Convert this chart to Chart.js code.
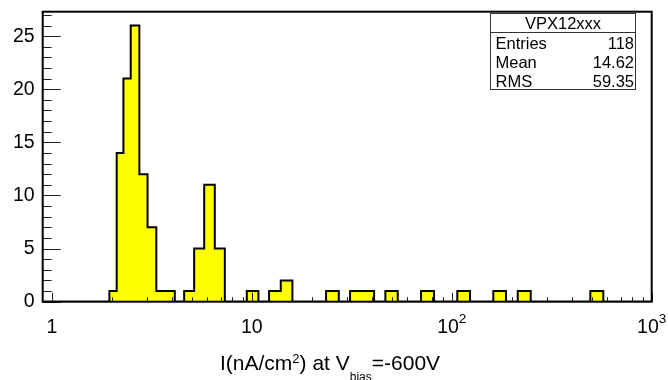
<!DOCTYPE html>
<html>
<head>
<meta charset="utf-8">
<script src="https://cdn.jsdelivr.net/npm/chart.js@4/dist/chart.umd.min.js"></script>
<style>
    html, body { margin: 0; padding: 0; background: #fff; }
    canvas { display: block; }
</style>
</head>
<body>
<canvas id="myChart" width="668" height="380"></canvas>
<script>
'use strict';

// histogram bins: lower edge, upper edge, entries
const binLow = [1.94, 2.11, 2.28, 2.48, 2.74, 3.01, 3.33, 3.71,
    4.59, 5.15, 5.78, 6.53,
    9.44, 12.20, 13.96, 23.52, 31.01, 35.61, 46.56, 70.22, 106.6, 161.4, 213.8, 493.2];
const binHigh = [2.11, 2.28, 2.48, 2.74, 3.01, 3.33, 3.71, 4.12,
    5.15, 5.78, 6.53, 7.33,
    10.79, 13.96, 15.96, 27.23, 35.61, 40.89, 53.70, 81.56, 123.4, 186.8, 248.3, 572.8];
const entries = [1, 14, 21, 26, 12, 7, 1, 1,
    1, 5, 11, 5,
    1, 1, 2, 1, 1, 1, 1, 1, 1, 1, 1, 1];

const xMin = 0.9, xMax = 1000;
const yMax = 27.3;
const decades = [1, 10, 100, 1000];
const decadeBase = ['1', '10', '10', '10'];
const decadeExp = ['', '', '2', '3'];
const yLabels = [0, 5, 10, 15, 20, 25];

const statTitle = 'VPX12xxx';
const statNames = ['Entries', 'Mean', 'RMS'];
const statValues = ['118', '14.62', '59.35'];

const FONT = "'Liberation Sans', Arial, sans-serif";

document.addEventListener('DOMContentLoaded', function() {
    drawChart();
});

function histPoints() {
    let pts = [{x: xMin, y: 0}];
    for (let i = 0; i < binLow.length; i++) {
        pts.push({x: binLow[i], y: entries[i]});
        if (i == binLow.length - 1 || binLow[i + 1] != binHigh[i]) {
            pts.push({x: binHigh[i], y: 0});
        }
    }
    pts.push({x: xMax, y: 0});
    return pts;
}

function minorTicks() {
    let t = [];
    for (let d = 1; d < 1000; d *= 10) {
        for (let k = 1; k < 10; k++) t.push(k * d);
    }
    t.push(1000);
    return t;
}

// frame, inward ticks, decade labels, axis title and stats box, ROOT style
const rootDecor = {
    id: 'rootDecor',
    afterDatasetsDraw(chart) {
        let ctx = chart.ctx;
        let xs = chart.scales.x, ys = chart.scales.y;
        let left = xs.getPixelForValue(xMin), right = xs.getPixelForValue(xMax);
        let top = ys.getPixelForValue(yMax), bottom = ys.getPixelForValue(0);
        ctx.save();

        // ticks on the y axis
        ctx.strokeStyle = '#222';
        ctx.lineWidth = 1;
        for (let v = 0; v <= 27; v++) {
            let y = Math.round(ys.getPixelForValue(v)) + 0.5;
            let len = v % 5 == 0 ? 18 : 9;
            ctx.beginPath();
            ctx.moveTo(left, y);
            ctx.lineTo(left + len, y);
            ctx.stroke();
        }
        // ticks on the x axis
        let mt = minorTicks();
        for (let i = 0; i < mt.length; i++) {
            let x = Math.round(xs.getPixelForValue(mt[i])) + 0.5;
            let len = decades.indexOf(mt[i]) >= 0 ? 9 : 4.5;
            ctx.beginPath();
            ctx.moveTo(x, bottom);
            ctx.lineTo(x, bottom - len);
            ctx.stroke();
        }

        // frame
        ctx.strokeStyle = '#000';
        ctx.lineWidth = 2;
        ctx.strokeRect(left, top, right - left, bottom - top);

        // decade labels, 10^n with a raised exponent
        ctx.fillStyle = '#000';
        ctx.textBaseline = 'alphabetic';
        ctx.textAlign = 'left';
        for (let i = 0; i < decades.length; i++) {
            ctx.font = '19.5px ' + FONT;
            let wb = ctx.measureText(decadeBase[i]).width;
            ctx.font = '13.5px ' + FONT;
            let we = ctx.measureText(decadeExp[i]).width;
            let x0 = xs.getPixelForValue(decades[i]) - (wb + we) / 2;
            ctx.font = '19.5px ' + FONT;
            ctx.fillText(decadeBase[i], x0, bottom + 31.5);
            ctx.font = '13.5px ' + FONT;
            ctx.fillText(decadeExp[i], x0 + wb, bottom + 21.5);
        }

        // x axis title with superscript and subscript
        let tx = 220, ty = 370;
        let parts = [
            ['I(nA/cm', 21, 0], ['2', 13, -7], [') at V', 21, 0],
            ['bias', 12, 10.5], ['=-600V', 21, 0]
        ];
        for (let i = 0; i < parts.length; i++) {
            ctx.font = parts[i][1] + 'px ' + FONT;
            ctx.fillText(parts[i][0], tx, ty + parts[i][2]);
            tx += ctx.measureText(parts[i][0]).width;
        }

        // stats box
        let bx = 490.5, by = 13.5, bw = 145, bh = 76;
        ctx.fillStyle = '#fff';
        ctx.fillRect(bx, by, bw, bh);
        ctx.strokeStyle = '#333';
        ctx.lineWidth = 1;
        ctx.strokeRect(bx, by, bw, bh);
        ctx.beginPath();
        ctx.moveTo(bx, 32.5);
        ctx.lineTo(bx + bw, 32.5);
        ctx.stroke();
        ctx.fillStyle = '#000';
        ctx.font = '16.5px ' + FONT;
        ctx.textAlign = 'center';
        ctx.fillText(statTitle, bx + bw / 2, 29);
        for (let i = 0; i < statNames.length; i++) {
            let yy = 48.5 + i * 19;
            ctx.textAlign = 'left';
            ctx.fillText(statNames[i], bx + 5, yy);
            ctx.textAlign = 'right';
            ctx.fillText(statValues[i], bx + bw - 1.5, yy);
        }
        ctx.restore();
    }
};

function drawChart() {
    let ctx = document.getElementById('myChart').getContext('2d');
    let chart = new Chart(ctx, {
        type: 'line',
        data: {
            datasets: [{
                label: 'VPX12xxx',
                data: histPoints(),
                stepped: 'before',
                fill: 'origin',
                backgroundColor: '#ffff00',
                borderColor: '#000000',
                borderWidth: 2,
                pointRadius: 0,
                tension: 0
            }]
        },
        options: {
            responsive: false,
            animation: false,
            devicePixelRatio: 1,
            layout: { padding: { top: 11.7, right: 16.3, left: 0, bottom: 0 } },
            plugins: {
                legend: { display: false },
                tooltip: { enabled: false }
            },
            scales: {
                x: {
                    type: 'logarithmic',
                    min: xMin,
                    max: xMax,
                    grid: { display: false, drawTicks: false },
                    border: { display: false },
                    ticks: { display: false },
                    afterFit: function(scale) {
                        scale.height = 78.3;
                        scale.paddingLeft = 0;
                        scale.paddingRight = 0;
                    }
                },
                y: {
                    type: 'linear',
                    min: 0,
                    max: yMax,
                    grid: { display: false, drawTicks: false },
                    border: { display: false },
                    afterBuildTicks: function(scale) {
                        scale.ticks = yLabels.map(function(v) { return {value: v}; });
                    },
                    afterFit: function(scale) {
                        scale.width = 42.7;
                        scale.paddingTop = 0;
                        scale.paddingBottom = 0;
                    },
                    ticks: {
                        padding: 8,
                        color: '#000',
                        font: { family: FONT, size: 19.5 }
                    }
                }
            }
        },
        plugins: [rootDecor]
    });
}
</script>
</body>
</html>
